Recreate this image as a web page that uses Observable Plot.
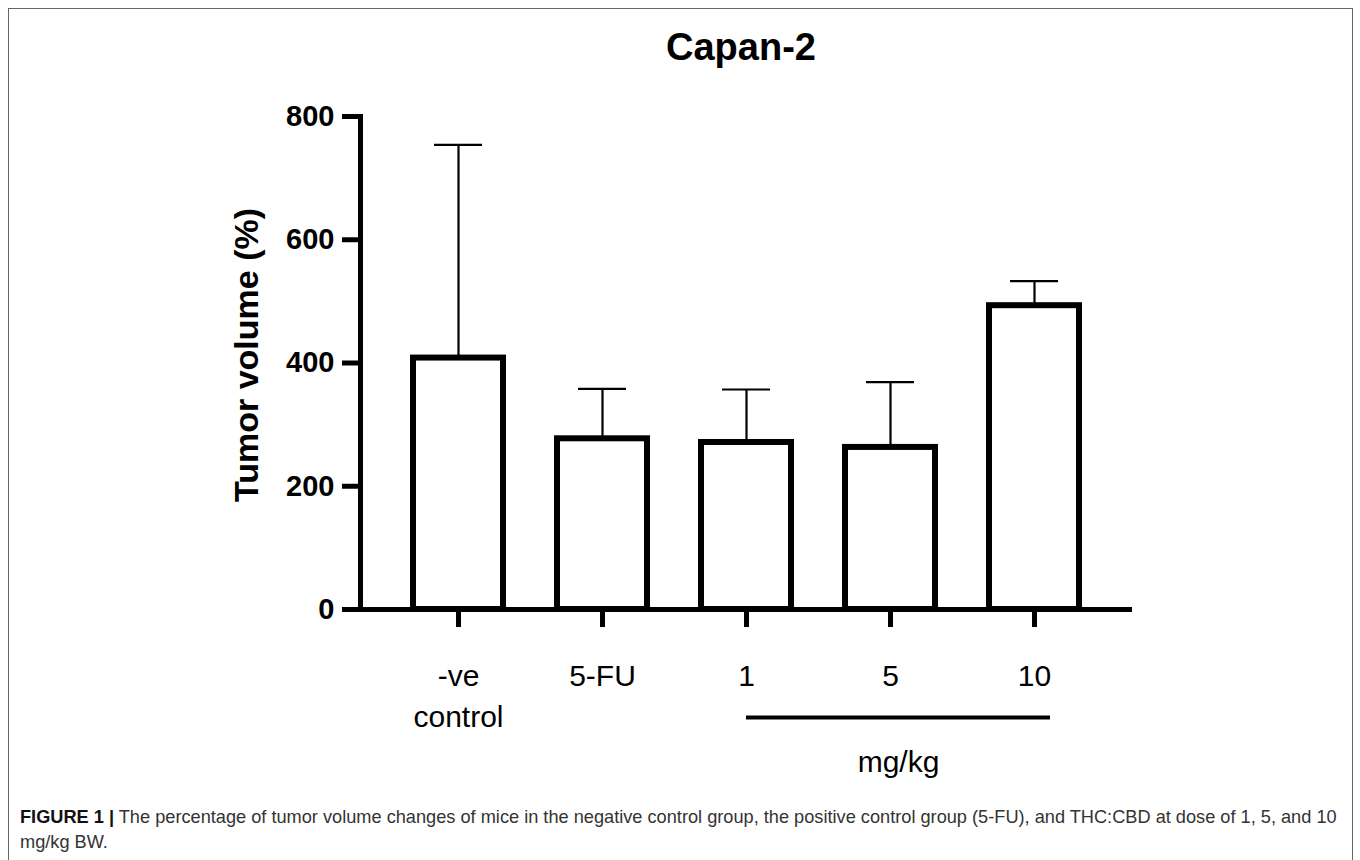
<!DOCTYPE html>
<html>
<head>
<meta charset="utf-8">
<script src="https://cdn.jsdelivr.net/npm/d3@7"></script>
<script src="https://cdn.jsdelivr.net/npm/@observablehq/plot@0.6"></script>
<style>
  html, body { margin: 0; padding: 0; background: #fff; overflow: hidden; }
  #wrap { position: relative; width: 1360px; height: 860px; font-family: "Liberation Sans", Arial, Helvetica, sans-serif; }
  #border { position: absolute; left: 8px; top: 8px; width: 1345px; height: 870px; border: 1px solid #666; box-sizing: border-box; }
  #title { position: absolute; left: 741px; top: 27px; transform: translateX(-50%); font-size: 38px; font-weight: bold; line-height: 40px; color: #000; white-space: nowrap; }
  #chart { position: absolute; left: 0; top: 0; }
  #caption { position: absolute; left: 20px; top: 805px; font-size: 18.2px; line-height: 25px; color: #333; white-space: nowrap; }
  #caption b { color: #111; }
</style>
</head>
<body>
<div id="wrap">
  <div id="border"></div>
  <div id="title">Capan-2</div>
  <div id="chart"></div>
  <div id="caption"><b>FIGURE 1 |</b> The percentage of tumor volume changes of mice in the negative control group, the positive control group (5-FU), and THC:CBD at dose of 1, 5, and 10<br>mg/kg BW.</div>
</div>
<script>
// ---- data ----
const groups = ["-ve control", "5-FU", "1", "5", "10"];
const tickLabels = ["-ve\ncontrol", "5-FU", "1", "5", "10"];
const means = [408, 277, 271, 263, 493];
const uppers = [754, 358, 357, 369, 533];
const yTicks = [0, 200, 400, 600, 800];
const yLabel = "Tumor volume (%)";
const doseFrom = "1";
const doseTo = "10";
const doseMid = "5";
const doseUnit = "mg/kg";

const data = groups.map((g, i) => ({group: g, mean: means[i], upper: uppers[i]}));
const bracket = [{from: doseFrom, to: doseTo, mid: doseMid, unit: doseUnit}];

const chart = Plot.plot({
  width: 1360,
  height: 790,
  marginLeft: 360,
  marginRight: 228,
  marginTop: 116,
  marginBottom: 181,
  style: {fontFamily: '"Liberation Sans", Arial, Helvetica, sans-serif', background: "transparent", color: "#000", overflow: "visible"},
  x: {domain: groups, paddingInner: 0.375, paddingOuter: 0.368, label: null},
  y: {domain: [0, 800], label: null},
  marks: [
    Plot.ruleX(data, {x: "group", y1: "mean", y2: "upper", stroke: "#000", strokeWidth: 2.2}),
    Plot.tickY(data, {x: "group", y: "upper", stroke: "#000", strokeWidth: 2.2, inset: 21}),
    Plot.barY(data, {x: "group", y: "mean", fill: "white", stroke: "#000", strokeWidth: 6}),
    Plot.ruleY([0], {stroke: "#000", strokeWidth: 5}),
    Plot.frame({anchor: "left", stroke: "#000", strokeWidth: 5}),
    Plot.axisY({ticks: yTicks, tickSize: 18, tickPadding: 8, stroke: "#000", strokeWidth: 5, fontSize: 29, fontWeight: "bold", label: null}),
    Plot.axisX({tickSize: 18, tickPadding: 29, stroke: "#000", strokeWidth: 5, fontSize: 30, lineHeight: 1.37,
      tickFormat: (d) => tickLabels[groups.indexOf(d)], label: null}),
    Plot.ruleY(bracket, {x1: "from", x2: "to", y: () => 0, dy: 108, insetLeft: 45, insetRight: 29, stroke: "#000", strokeWidth: 4}),
    Plot.text(bracket, {x: "mid", y: () => 0, text: "unit", dx: 8, dy: 153, fontSize: 30, fill: "#000"}),
    Plot.text([yLabel], {frameAnchor: "left", textAnchor: "middle", rotate: -90, dx: -113, dy: -8, fontSize: 34, fontWeight: "bold", fill: "#000"})
  ]
});
document.getElementById("chart").appendChild(chart);
</script>
</body>
</html>
